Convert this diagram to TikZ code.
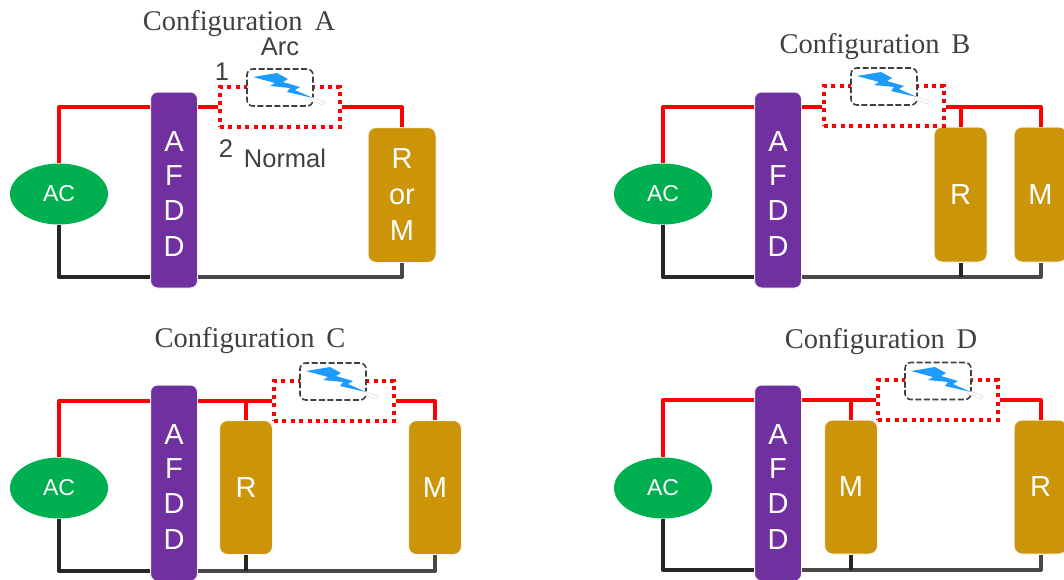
\documentclass[tikz,border=0pt]{standalone}
\usepackage{fontspec}
\setmainfont{Liberation Sans}
\newfontfamily\titlefont{Liberation Serif}
\definecolor{acgreen}{HTML}{00AF50}
\definecolor{afddpurple}{HTML}{7030A0}
\definecolor{loadgold}{HTML}{CC9409}
\definecolor{boltblue}{HTML}{1E9BFF}
\definecolor{darktext}{HTML}{404040}
\definecolor{wireblack}{HTML}{262626}
\definecolor{wiregrey}{HTML}{484848}
\usetikzlibrary{shapes.geometric,calc}
\tikzset{
  x=1pt,y=-1pt,
  hot/.style={draw=red,line width=4pt,line join=round},
  ret/.style={draw=wireblack,line width=4pt,line join=round},
  retg/.style={draw=wiregrey,line width=4pt,line join=round},
  acnode/.style={ellipse,fill=acgreen,minimum width=98pt,minimum height=61pt,inner sep=0pt,text=white,font=\fontsize{23}{26}\selectfont},
  afdd/.style={rectangle,rounded corners=7pt,fill=afddpurple,draw=gray!8,line width=1pt,minimum width=47pt,inner sep=0pt,text=white,align=center,font=\fontsize{29}{35.5}\selectfont},
  loadbox/.style={rectangle,rounded corners=8pt,fill=loadgold,draw=gray!8,line width=1pt,inner sep=0pt,text=white,align=center,font=\fontsize{29}{36}\selectfont},
  dotbox/.style={rectangle,draw=red,line width=4pt,dash pattern=on 4pt off 4.4pt,inner sep=0pt},
  arcbox/.style={rectangle,rounded corners=6pt,draw=darktext,line width=1.6pt,dash pattern=on 6pt off 2.5pt,fill=white,inner sep=0pt,minimum width=66pt,minimum height=37pt},
  ttl/.style={font=\titlefont\fontsize{28.5}{30}\selectfont,text=darktext,inner sep=0pt,anchor=center},
  lbl/.style={font=\fontsize{25.5}{28}\selectfont,text=darktext,inner sep=0pt,anchor=center},
}
\newcommand{\boltshape}[2]{%
  \draw[gray!25,line width=.6pt,fill=white] (#1+64,#2+28) -- (#1+78,#2+33) -- (#1+76,#2+36) -- (#1+62,#2+30);
  \fill[boltblue] (#1+6,#2+8) -- (#1+30,#2+4) -- (#1+41,#2+10) -- (#1+36,#2+13) -- (#1+53,#2+18) -- (#1+48,#2+21) -- (#1+66,#2+29) -- (#1+40,#2+23) -- (#1+43,#2+19) -- (#1+23,#2+17) -- (#1+28,#2+14) -- cycle;
}
\newcommand{\afddtext}{\raisebox{-2pt}{\rule{0pt}{28pt}A}\\F\\D\\D}
\begin{document}
\begin{tikzpicture}
\useasboundingbox (0,0) rectangle (1064,579);

% ---------- A ----------
\node[ttl] (ta) at (239,24) {Configuration\, A};
\node[acnode] (aca) at (59,194) {AC};
\node[afdd,minimum height=196pt] (afa) at (174,190) {\afddtext};
\node[loadbox,minimum width=68pt,minimum height=135pt] (la) at (402,195) {R\\or\\M};
\node[dotbox,minimum width=120pt,minimum height=40pt] (da) at (280,107) {};
\node[arcbox] (ba) at (280,87.5) {};
\boltshape{247}{69}
\node[lbl] (arc) at (280,47) {Arc};
\node[lbl] (norm) at (285,158) {Normal};
\node[lbl] (n1) at (222,72) {1};
\node[lbl] (n2) at (226,149) {2};
\draw[hot] (aca.north) |- (afa.west |- 0,107);
\draw[hot] (afa.east |- 0,107) -- (da.west);
\draw[hot] (da.east) -| (la.north);
\draw[ret] (aca.south) |- (afa.west |- 0,277);
\draw[retg] (afa.east |- 0,277) -| (la.south);

% ---------- B ----------
\node[ttl] (tb) at (875,47) {Configuration\, B};
\node[acnode] (acb) at (663,194) {AC};
\node[afdd,minimum height=196pt] (afb) at (778,190) {\afddtext};
\node[loadbox,minimum width=53pt,minimum height=135pt] (rb) at (960.5,194.5) {R};
\node[loadbox,minimum width=53pt,minimum height=135pt] (mb) at (1040.5,194.5) {M};
\node[dotbox,minimum width=120pt,minimum height=40pt] (db) at (884,106) {};
\node[arcbox] (bb) at (884,86.5) {};
\boltshape{851}{68}
\draw[hot] (acb.north) |- (afb.west |- 0,107);
\draw[hot] (afb.east |- 0,107) -- (db.west |- 0,107);
\draw[hot] (db.east |- 0,107) -| (mb.north);
\draw[hot] (rb.north) -- (rb.north |- 0,107);
\draw[ret] (acb.south) |- (afb.west |- 0,277);
\draw[retg] (afb.east |- 0,277) -| (mb.south);
\draw[ret] (rb.south) -- (rb.south |- 0,277);

% ---------- C ----------
\node[ttl] (tc) at (250,341) {Configuration\, C};
\node[acnode] (acc) at (59,488) {AC};
\node[afdd,minimum height=196pt] (afc) at (174,483) {\afddtext};
\node[loadbox,minimum width=53pt,minimum height=134pt] (rc) at (246,487.5) {R};
\node[loadbox,minimum width=53pt,minimum height=134pt] (mc) at (435,487.5) {M};
\node[dotbox,minimum width=120pt,minimum height=40pt] (dc) at (334,401) {};
\node[arcbox] (bc) at (333,381.5) {};
\boltshape{300}{363}
\draw[hot] (acc.north) |- (afc.west |- 0,401);
\draw[hot] (afc.east |- 0,401) -- (dc.west);
\draw[hot] (dc.east) -| (mc.north);
\draw[hot] (rc.north) -- (rc.north |- 0,401);
\draw[ret] (acc.south) |- (afc.west |- 0,571);
\draw[retg] (afc.east |- 0,571) -| (mc.south);
\draw[ret] (rc.south) -- (rc.south |- 0,571);

% ---------- D ----------
\node[ttl] (td) at (881,342) {Configuration\, D};
\node[acnode] (acd) at (663,488) {AC};
\node[afdd,minimum height=196pt] (afd) at (778,483) {\afddtext};
\node[loadbox,minimum width=53pt,minimum height=134pt] (md) at (851,487) {M};
\node[loadbox,minimum width=53pt,minimum height=134pt] (rd) at (1040.5,487) {R};
\node[dotbox,minimum width=120pt,minimum height=40pt] (dd) at (938,400) {};
\node[arcbox] (bd) at (938,381) {};
\boltshape{905}{363}
\draw[hot] (acd.north) |- (afd.west |- 0,400);
\draw[hot] (afd.east |- 0,400) -- (dd.west);
\draw[hot] (dd.east) -| (rd.north);
\draw[hot] (md.north) -- (md.north |- 0,400);
\draw[ret] (acd.south) |- (afd.west |- 0,570);
\draw[retg] (afd.east |- 0,570) -| (rd.south);
\draw[ret] (md.south) -- (md.south |- 0,570);
\end{tikzpicture}
\end{document}
